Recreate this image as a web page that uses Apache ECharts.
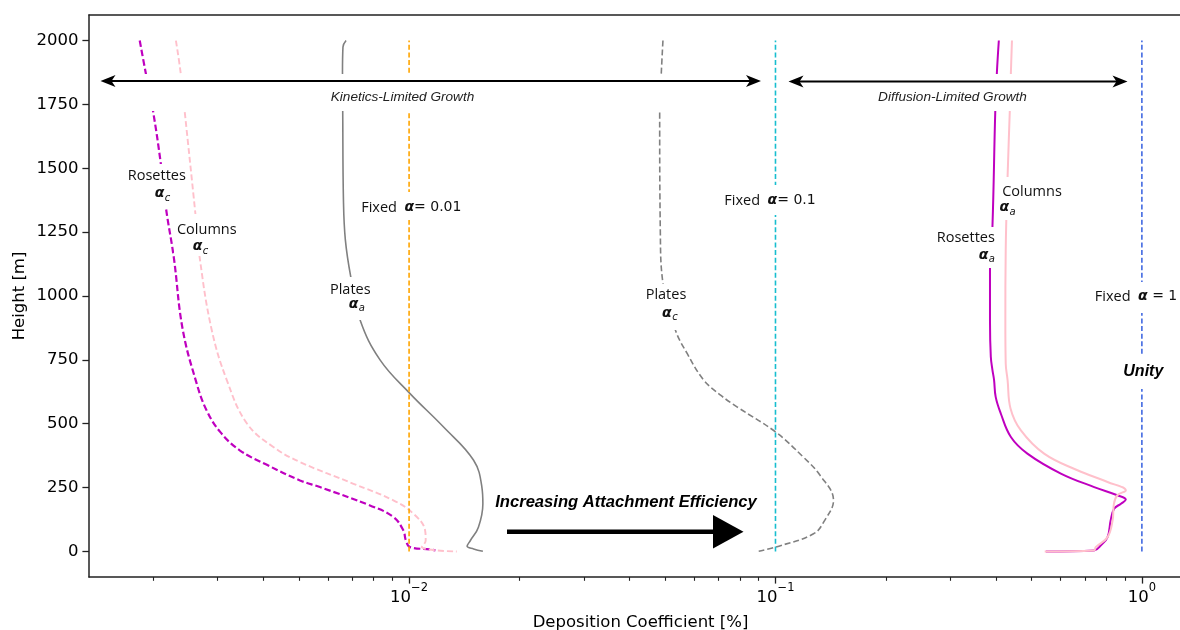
<!DOCTYPE html>
<html><head><meta charset="utf-8">
<script src="https://cdn.jsdelivr.net/npm/echarts@6.0.0/dist/echarts.min.js"></script>
<style>html,body{margin:0;padding:0;background:#fff}#c{width:1180px;height:630px}</style>
</head><body><div id="c"></div>
<script>
// ---------------- data ----------------
const yTicks = [0, 250, 500, 750, 1000, 1250, 1500, 1750, 2000];
const xMajorTicks = [0.01, 0.1, 1];
const xMinorTicks = [0.002,0.003,0.004,0.005,0.006,0.007,0.008,0.009,
                     0.02,0.03,0.04,0.05,0.06,0.07,0.08,0.09,
                     0.2,0.3,0.4,0.5,0.6,0.7,0.8,0.9];
// [deposition coefficient, height]
const rosettesC = [[0.00184,2000],[0.00191,1875],[0.00200,1725],[0.00210,1520],[0.00217,1344],[0.00228,1150],
  [0.00241,870],[0.00263,659],[0.00280,553],[0.00305,468],[0.00345,396],[0.00408,340],[0.00504,278],
  [0.00571,252],[0.00782,180],[0.00906,135],[0.00965,82],[0.0098,43],[0.01006,17],[0.0114,8],[0.0118,4]];
const columnsC = [[0.00231,2000],[0.00238,1873],[0.00244,1725],[0.00261,1324],[0.00268,1154],[0.00289,870],
  [0.00318,671],[0.00361,501],[0.00426,409],[0.00504,350],[0.00705,265],[0.00906,200],
  [0.01027,148],[0.01106,82],[0.0111,43],[0.01083,17],[0.01349,0]];
const platesA = [[0.00673,2000],[0.00660,1975],[0.00658,1875],[0.00659,1723],[0.00662,1376],[0.00670,1220],
  [0.00693,1076],[0.00735,906],[0.00834,749],[0.01006,618],[0.0124,488],[0.0150,357],[0.0158,252],
  [0.0159,187],[0.01546,95],[0.0147,43],[0.0144,20],[0.0150,10],[0.0159,1]];
const platesC = [[0.0493,2000],[0.0488,1875],[0.0483,1723],[0.0485,1247],[0.0493,1050],[0.0533,867],
  [0.0574,775],[0.0637,671],[0.0708,612],[0.0785,566],[0.1,468],[0.119,370],[0.132,300],[0.144,200],
  [0.136,120],[0.127,69],[0.1,17],[0.09,1]];
const rosettesA = [[0.407,2000],[0.402,1873],[0.398,1723],[0.391,1272],[0.385,1102],[0.385,900],[0.387,762],
  [0.391,710],[0.395,671],[0.399,605],[0.412,540],[0.439,448],[0.487,383],[0.601,305],[0.741,252],[0.857,220],
  [0.904,203],[0.877,187],[0.840,167],[0.822,122],[0.806,56],[0.773,24],[0.741,4],[0.547,0]];
const columnsA = [[0.442,2000],[0.439,1873],[0.436,1723],[0.430,1468],[0.425,1180],[0.424,900],[0.425,736],
  [0.430,671],[0.438,560],[0.467,475],[0.541,383],[0.667,318],[0.806,272],[0.904,239],[0.857,220],[0.839,187],
  [0.832,122],[0.806,56],[0.748,17],[0.741,4],[0.543,0]];
const fixedAlphas = [0.01, 0.1, 1];
const fixedHeights = [0, 2000];

// ---------------- layout ----------------
const X_MIN = Math.pow(10, -2.8736), X_MAX = Math.pow(10, 0.1368);
const GRID = {left: 89, top: 15, width: 1103, height: 562, containLabel: false, outerBoundsMode: 'none'};
const AX = {lineStyle: {color: '#222', width: 1.5}};
const TICKFONT = 'DejaVu Sans';

function lineSeries(name, data, color, width, type, z) {
  return {name, type: 'line', data, xAxisIndex: 0, yAxisIndex: 0, showSymbol: false, symbol: 'none',
    smooth: 0.4, clip: true, z: z || 2,
    lineStyle: {color, width, type: type || 'solid'}, emphasis: {disabled: true}, silent: true};
}
const fixedColors = ['#ffa500', '#17becf', '#4169e1'];
const series = [
  lineSeries('Rosettes αc', rosettesC, '#bf00bf', 2.2, [6.5, 3]),
  lineSeries('Columns αc', columnsC, '#ffc0cb', 1.9, [6, 3]),
  lineSeries('Plates αa', platesA, '#808080', 1.6, 'solid'),
  lineSeries('Plates αc', platesC, '#808080', 1.6, [6, 3]),
  lineSeries('Rosettes αa', rosettesA, '#bf00bf', 2, 'solid'),
  lineSeries('Columns αa', columnsA, '#ffc0cb', 2, 'solid'),
];
fixedAlphas.forEach((a, i) => {
  const s = lineSeries('Fixed α=' + a, fixedHeights.map(h => [a, h]), fixedColors[i], 1.6, [5, 2.6], 3);
  s.smooth = false;
  series.push(s);
});
// hidden series for minor tick grid
series.push({type: 'line', data: [], xAxisIndex: 2, yAxisIndex: 1, silent: true});

function supFmt(v) {
  const e = Math.round(Math.log10(v));
  return '{b|10}{s|' + (e < 0 ? '\u2212' + (-e) : String(e)) + '}';
}

// ------------- graphic annotations -------------
const G = [];
const Z = 100;
function box(x, y, w, h) { G.push({type: 'rect', z: Z, shape: {x, y, width: w, height: h}, style: {fill: '#fff'}, silent: true}); }
function txt(t, x, y, font, align, fill) {
  G.push({type: 'text', z: Z + 1, x, y, silent: true,
    style: {text: t, font, fill: fill || '#111', align: align || 'center', verticalAlign: 'middle',
            textAlign: align || 'center', textVerticalAlign: 'middle'}});
}
const LBL = '14.5px "Open Sans"';
function alpha(rightX, y, sub) {
  txt('α', rightX, y, 'italic bold 14px "DejaVu Sans"', 'right');
  txt(sub, rightX + 0.5, y + 4.5, 'italic 10px "DejaVu Sans"', 'left');
}
function richTxt(parts, x, y) {
  G.push({type: 'text', z: Z + 1, x, y, silent: true,
    style: {text: parts, align: 'center', verticalAlign: 'middle', textAlign: 'center', textVerticalAlign: 'middle',
      fill: '#111', font: LBL,
      rich: {n: {font: LBL, fill: '#111'}, a: {font: 'italic bold 14px "DejaVu Sans"', fill: '#111'},
             m: {font: '14px "DejaVu Sans"', fill: '#111'}}}});
}
function arrowHead(tx, ty, dir) {
  G.push({type: 'polygon', z: Z + 2, silent: true,
    shape: {points: [[tx, ty], [tx - dir * 15, ty - 6], [tx - dir * 11, ty], [tx - dir * 15, ty + 6]]},
    style: {fill: '#000'}});
}
function dblArrow(x1, x2, y) {
  G.push({type: 'line', z: Z + 2, silent: true, shape: {x1: x1 + 8, y1: y, x2: x2 - 8, y2: y}, style: {stroke: '#000', lineWidth: 2}});
  arrowHead(x1, y, -1); arrowHead(x2, y, 1);
}
// white bands behind growth-regime arrows
box(100, 74, 661, 37); box(788, 74, 340, 37);
dblArrow(100.5, 761, 81); dblArrow(788.5, 1127.5, 81.5);
txt('Kinetics-Limited Growth', 402.5, 97.5, 'italic 13.6px "Liberation Sans"', 'center', '#222');
txt('Diffusion-Limited Growth', 952.5, 97.5, 'italic 13.6px "Liberation Sans"', 'center', '#222');
// labels
box(125, 164, 64, 44); txt('Rosettes', 156.8, 176, LBL); alpha(164.3, 193.5, 'c');
box(174, 214, 66, 42); txt('Columns', 206.8, 229.5, LBL); alpha(202.3, 246.7, 'c');
box(328, 277, 45, 43); txt('Plates', 350.3, 289.5, LBL); alpha(358.3, 304, 'a');
box(643, 284, 46, 46); txt('Plates', 666, 295, LBL); alpha(671.7, 313.3, 'c');
box(999, 177, 66, 43); txt('Columns', 1032, 191.5, LBL); alpha(1009, 207.7, 'a');
box(934, 227, 63, 41); txt('Rosettes', 965.8, 238, LBL); alpha(988.3, 255, 'a');
box(360, 192, 102, 28); richTxt('{n|Fixed  }{a|α}{m|= 0.01}', 411.3, 207.5);
box(724, 185, 92, 30); richTxt('{n|Fixed  }{a|α}{m|= 0.1}', 770, 200.7);
box(1097, 282, 79, 31); richTxt('{n|Fixed  }{a|α}{m| = 1}', 1136, 296.8);
box(1121, 355, 45, 34); txt('Unity', 1143.3, 372, 'italic bold 16px "Liberation Sans"', 'center', '#000');
// big arrow
txt('Increasing Attachment Efficiency', 626, 502.5, 'italic bold 16.6px "Liberation Sans"', 'center', '#000');
G.push({type: 'line', z: Z + 2, silent: true, shape: {x1: 507, y1: 531.7, x2: 715, y2: 531.7}, style: {stroke: '#000', lineWidth: 4.6}});
G.push({type: 'polygon', z: Z + 2, silent: true, shape: {points: [[713, 515], [743.5, 531.7], [713, 548.5]]}, style: {fill: '#000'}});

const option = {
  animation: false,
  backgroundColor: '#fff',
  grid: [Object.assign({}, GRID), Object.assign({}, GRID)],
  xAxis: [
    {type: 'log', gridIndex: 0, min: X_MIN, max: X_MAX, position: 'bottom',
     axisLine: Object.assign({onZero: false}, AX),
     axisTick: {customValues: xMajorTicks, length: 6.6, lineStyle: {color: '#222', width: 1.3}},
     axisLabel: {customValues: xMajorTicks, formatter: supFmt, margin: 5.5, color: '#000',
       rich: {b: {fontSize: 16.5, fontFamily: TICKFONT, color: '#000', lineHeight: 23.5, verticalAlign: 'bottom'},
              s: {fontSize: 11.5, fontFamily: TICKFONT, color: '#000', lineHeight: 11, verticalAlign: 'top'}}},
     splitLine: {show: false}, minorTick: {show: false},
     name: 'Deposition Coefficient [%]', nameLocation: 'middle', nameGap: 37, nameMoveOverlap: false,
     nameTextStyle: {fontSize: 16.5, fontFamily: TICKFONT, color: '#000'}},
    {type: 'log', gridIndex: 0, min: X_MIN, max: X_MAX, position: 'top',
     axisLine: Object.assign({onZero: false}, AX), axisTick: {show: false}, axisLabel: {show: false}, splitLine: {show: false}},
    {type: 'log', gridIndex: 1, min: X_MIN, max: X_MAX, position: 'bottom',
     axisLine: {show: false, onZero: false},
     axisTick: {customValues: xMinorTicks, length: 3.8, lineStyle: {color: '#222', width: 1.1}},
     axisLabel: {show: false}, splitLine: {show: false}}
  ],
  yAxis: [
    {type: 'value', gridIndex: 0, min: -100, max: 2100,
     axisLine: Object.assign({show: true, onZero: false}, AX),
     axisTick: {show: true, customValues: yTicks, length: 6.6, lineStyle: {color: '#222', width: 1.3}},
     axisLabel: {customValues: yTicks, formatter: v => String(v), fontSize: 16.5, fontFamily: TICKFONT, color: '#000', margin: 10.5},
     splitLine: {show: false},
     name: 'Height [m]', nameLocation: 'middle', nameGap: 61, nameMoveOverlap: false,
     nameTextStyle: {fontSize: 16.5, fontFamily: TICKFONT, color: '#000'}},
    {type: 'value', gridIndex: 1, min: -100, max: 2100, show: false}
  ],
  series,
  graphic: G
};
const chart = echarts.init(document.getElementById('c'), null, {renderer: 'canvas'});
chart.setOption(option);
</script></body></html>
